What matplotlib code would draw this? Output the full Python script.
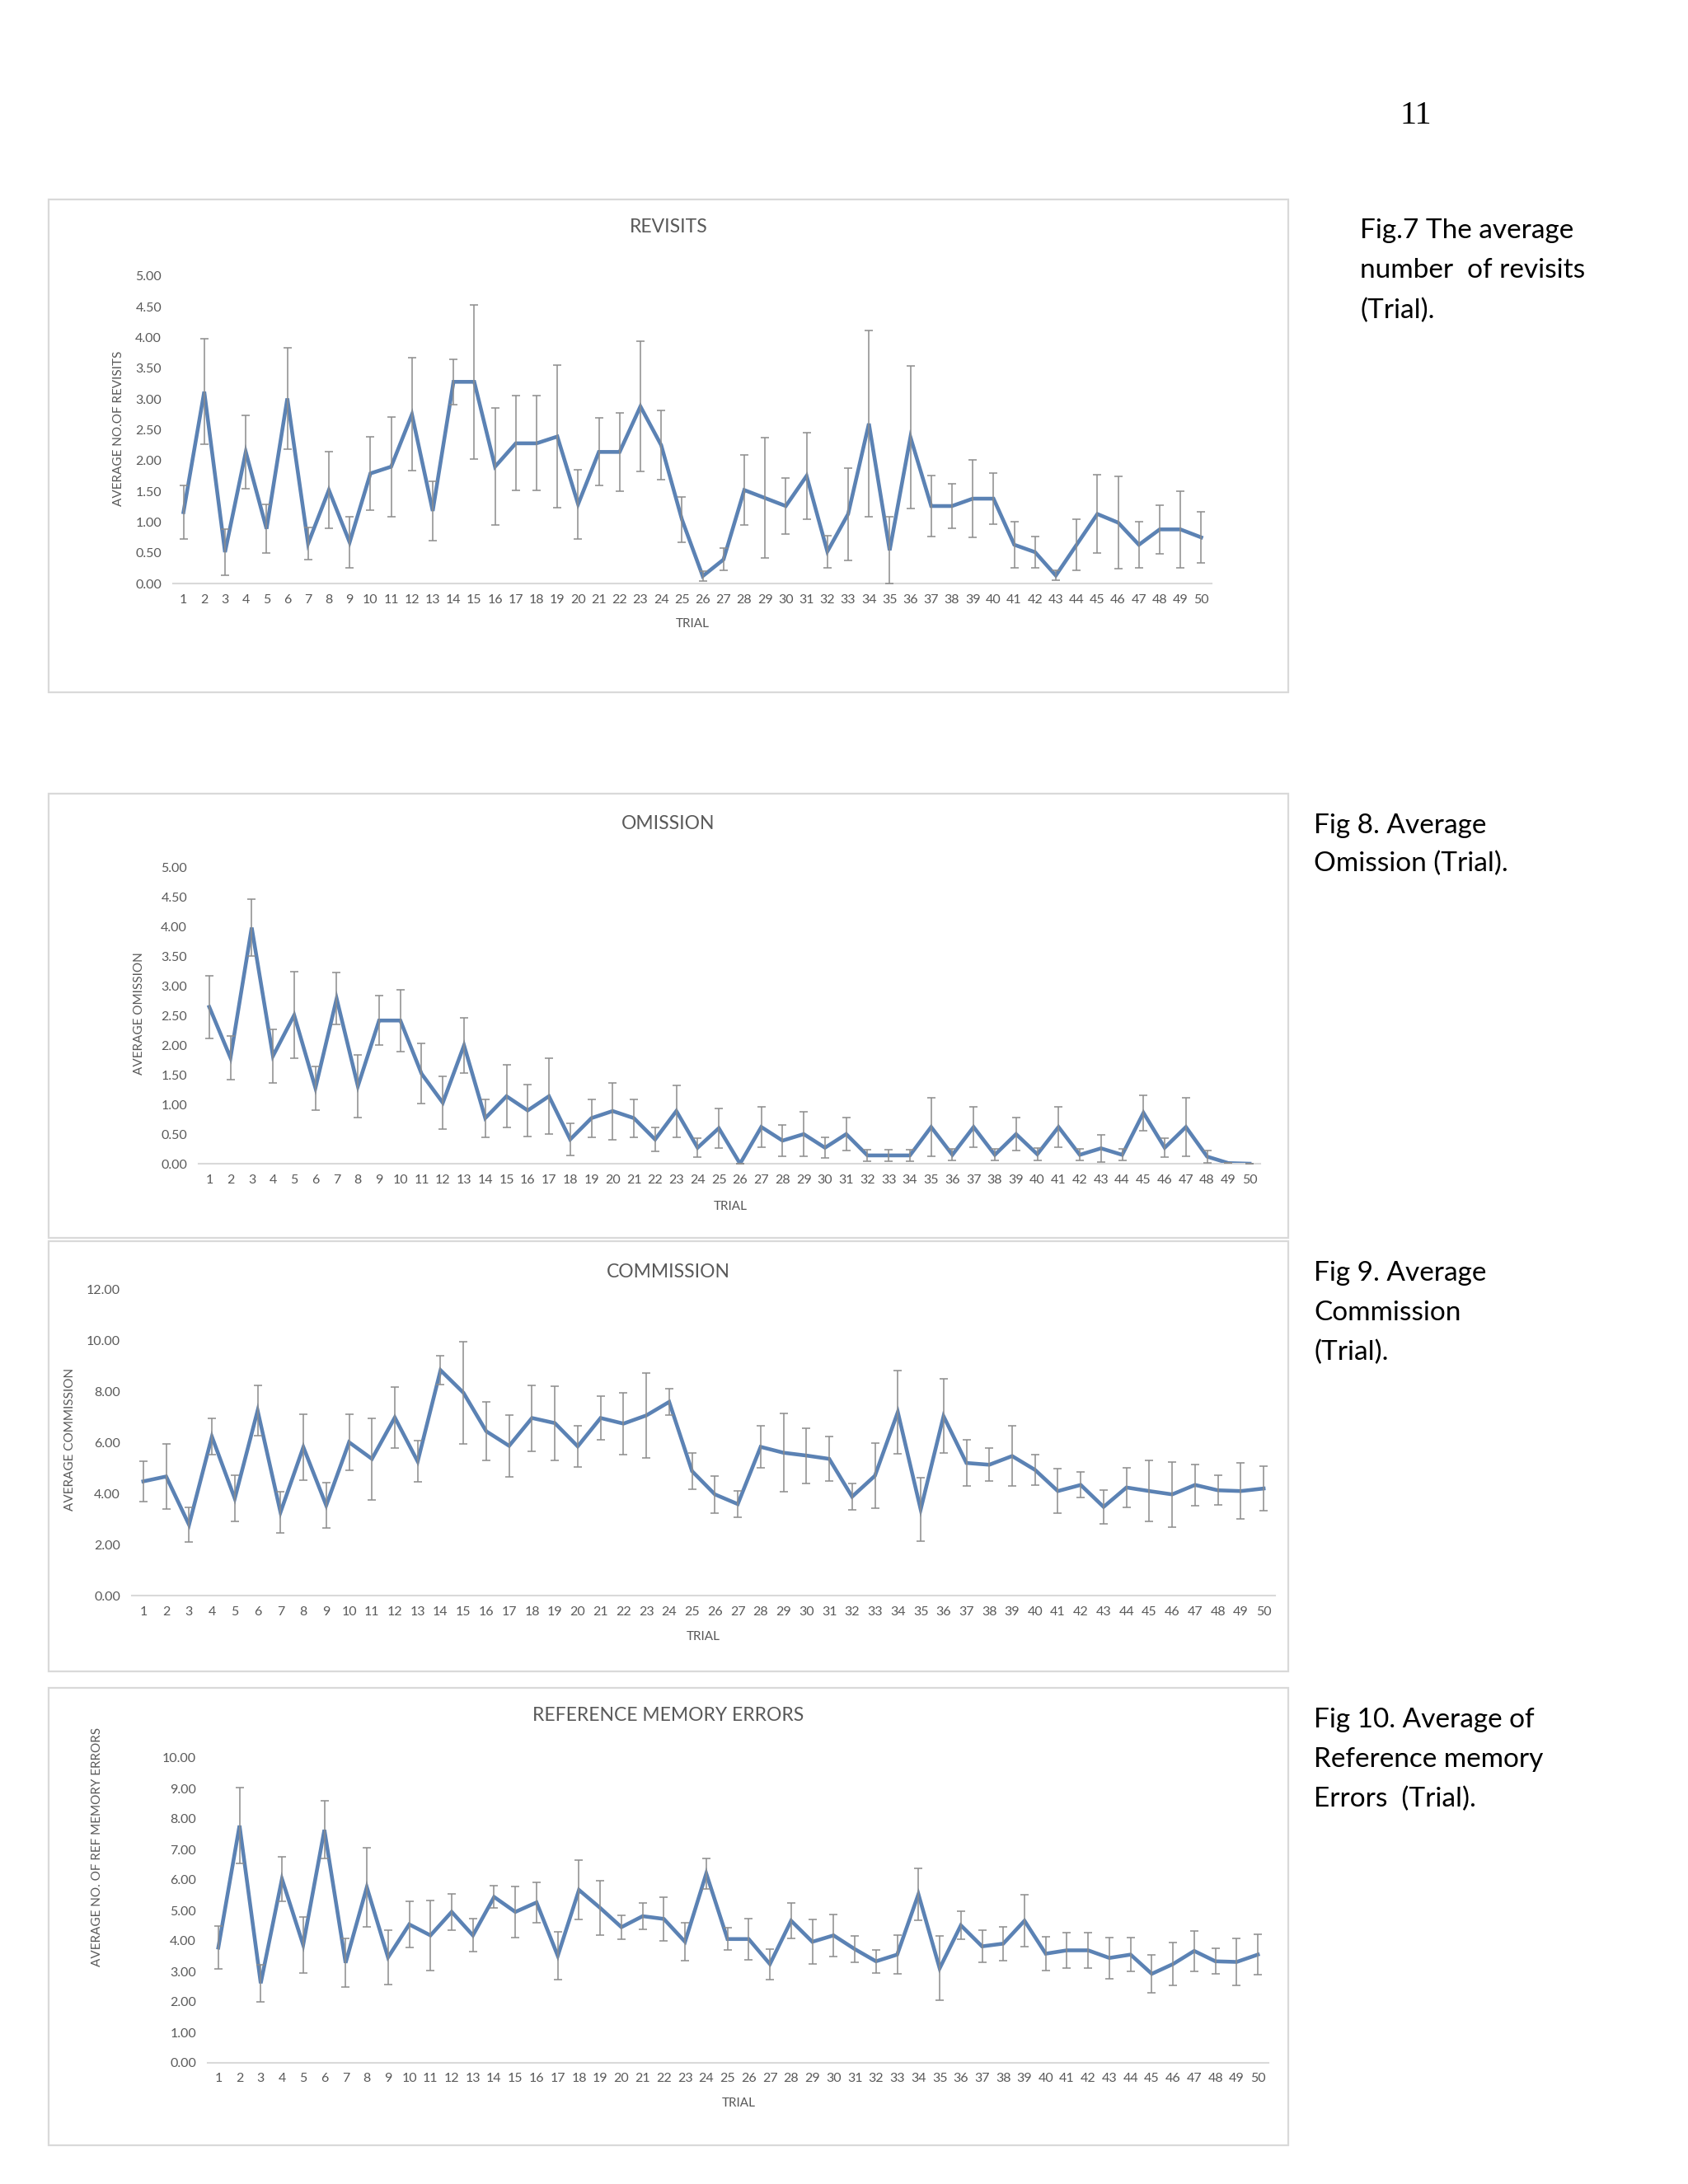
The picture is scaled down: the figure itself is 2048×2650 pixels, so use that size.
import matplotlib
matplotlib.use("Agg")
import matplotlib.pyplot as plt
from matplotlib.patches import Rectangle
import numpy as np

W, H = 2048, 2650
DPI = 100

trials = list(range(1, 51))

revisits_mean = [1.16, 3.12, 0.51, 2.14, 0.89, 3.01, 0.65, 1.52, 0.67, 1.79,
                 1.90, 2.75, 1.18, 3.28, 3.28, 1.90, 2.28, 2.28, 2.39, 1.29,
                 2.14, 2.14, 2.88, 2.25, 1.04, 0.12, 0.39, 1.52, 1.39, 1.26,
                 1.75, 0.52, 1.13, 2.60, 0.54, 2.38, 1.26, 1.26, 1.38, 1.38,
                 0.63, 0.51, 0.13, 0.63, 1.13, 0.99, 0.63, 0.88, 0.88, 0.75]
revisits_err = [0.43, 0.86, 0.37, 0.60, 0.40, 0.83, 0.26, 0.62, 0.42, 0.60,
                0.81, 0.92, 0.48, 0.37, 1.25, 0.95, 0.77, 0.77, 1.16, 0.56,
                0.55, 0.64, 1.06, 0.56, 0.37, 0.08, 0.18, 0.57, 0.98, 0.45,
                0.70, 0.26, 0.75, 1.52, 0.54, 1.16, 0.49, 0.36, 0.63, 0.42,
                0.38, 0.26, 0.08, 0.42, 0.64, 0.75, 0.38, 0.40, 0.62, 0.42]

omission_mean = [2.65, 1.79, 3.99, 1.82, 2.51, 1.28, 2.79, 1.31, 2.42, 2.42,
                 1.52, 1.03, 2.00, 0.77, 1.14, 0.90, 1.14, 0.41, 0.77, 0.89,
                 0.77, 0.41, 0.89, 0.27, 0.60, 0.00, 0.62, 0.39, 0.50, 0.27,
                 0.50, 0.14, 0.14, 0.14, 0.62, 0.15, 0.62, 0.15, 0.50, 0.16,
                 0.62, 0.15, 0.26, 0.15, 0.86, 0.27, 0.62, 0.12, 0.01, 0.00]
omission_err = [0.53, 0.37, 0.48, 0.45, 0.73, 0.37, 0.44, 0.53, 0.42, 0.52,
                0.51, 0.44, 0.47, 0.32, 0.53, 0.44, 0.64, 0.27, 0.32, 0.48,
                0.32, 0.20, 0.44, 0.16, 0.34, 0.00, 0.34, 0.26, 0.38, 0.17,
                0.28, 0.10, 0.10, 0.10, 0.50, 0.10, 0.34, 0.10, 0.28, 0.10,
                0.34, 0.10, 0.23, 0.10, 0.30, 0.16, 0.50, 0.10, 0.00, 0.00]

commission_mean = [4.47, 4.66, 2.77, 6.22, 3.80, 7.24, 3.26, 5.81, 3.53, 6.00,
                   5.35, 6.97, 5.25, 8.82, 7.94, 6.43, 5.86, 6.95, 6.75, 5.84,
                   6.95, 6.73, 7.05, 7.58, 4.87, 3.96, 3.58, 5.82, 5.59, 5.48,
                   5.35, 3.87, 4.69, 7.18, 3.37, 7.02, 5.19, 5.12, 5.46, 4.92,
                   4.09, 4.33, 3.47, 4.23, 4.09, 3.96, 4.33, 4.12, 4.09, 4.19]
commission_err = [0.78, 1.27, 0.68, 0.70, 0.90, 0.97, 0.80, 1.30, 0.90, 1.10,
                  1.60, 1.20, 0.80, 0.57, 2.00, 1.15, 1.20, 1.29, 1.45, 0.80,
                  0.86, 1.20, 1.67, 0.52, 0.70, 0.72, 0.52, 0.83, 1.53, 1.08,
                  0.87, 0.52, 1.28, 1.62, 1.25, 1.45, 0.90, 0.65, 1.17, 0.60,
                  0.87, 0.50, 0.67, 0.77, 1.20, 1.28, 0.81, 0.58, 1.10, 0.88]

rme_mean = [3.78, 7.78, 2.61, 6.03, 3.87, 7.64, 3.28, 5.76, 3.46, 4.54,
            4.18, 4.95, 4.18, 5.44, 4.95, 5.26, 3.51, 5.67, 5.08, 4.45,
            4.81, 4.72, 3.97, 6.21, 4.06, 4.06, 3.24, 4.66, 3.97, 4.18,
            3.73, 3.33, 3.55, 5.53, 3.10, 4.51, 3.82, 3.91, 4.66, 3.58,
            3.69, 3.69, 3.44, 3.55, 2.92, 3.24, 3.67, 3.33, 3.31, 3.55]
rme_err = [0.71, 1.25, 0.60, 0.74, 0.92, 0.95, 0.80, 1.30, 0.90, 0.75,
           1.15, 0.60, 0.54, 0.37, 0.84, 0.66, 0.79, 0.97, 0.88, 0.40,
           0.42, 0.71, 0.62, 0.50, 0.36, 0.67, 0.50, 0.58, 0.72, 0.68,
           0.42, 0.38, 0.63, 0.85, 1.05, 0.45, 0.52, 0.55, 0.85, 0.56,
           0.58, 0.58, 0.68, 0.56, 0.63, 0.70, 0.66, 0.42, 0.76, 0.67]

titles = ["REVISITS", "OMISSION", "COMMISSION", "REFERENCE MEMORY ERRORS"]
ylabels = ["AVERAGE NO.OF REVISITS", "AVERAGE OMISSION", "AVERAGE COMMISSION",
           "AVERAGE NO. OF REF MEMORY ERRORS"]
xlabel = "TRIAL"
captions = [["Fig.7 The average", "number  of revisits", "(Trial)."],
            ["Fig 8. Average", "Omission (Trial)."],
            ["Fig 9. Average", "Commission", "(Trial)."],
            ["Fig 10. Average of", "Reference memory", "Errors  (Trial)."]]
page_number = "11"

plt.rcParams['font.family'] = ['Lato', 'DejaVu Sans']

fig = plt.figure(figsize=(W / DPI, H / DPI), dpi=DPI)
fig.patch.set_facecolor('white')

def fx(px):
    return px / W

def fy(py):
    return 1 - py / H

LINE = '#5B82B4'
ERR = '#8C8C8C'
TXT = '#595959'
FRAME = '#D9D9D9'

# panel frames: (left, top, right, bottom) in pixels
frames = [(59, 242, 1563, 840), (59, 963, 1563, 1502), (59, 1506, 1563, 2028),
          (59, 2048, 1563, 2603)]
for (l, t, r, b) in frames:
    fig.patches.append(Rectangle((fx(l), fy(b)), fx(r) - fx(l), fy(t) - fy(b),
                                 transform=fig.transFigure, fill=False,
                                 edgecolor=FRAME, linewidth=1.6))

# axes geometry: left px, right px, top px (at ymax), bottom px (at 0)
panels = [
    dict(mean=revisits_mean, err=revisits_err, ymax=5.0, step=0.5,
         box=(210, 1470, 335, 708), title_y=276, ylab=(144, 520), xlab=(840, 757)),
    dict(mean=omission_mean, err=omission_err, ymax=5.0, step=0.5,
         box=(241, 1529, 1053, 1412), title_y=1000, ylab=(169, 1230), xlab=(886, 1464)),
    dict(mean=commission_mean, err=commission_err, ymax=12.0, step=2.0,
         box=(160, 1547, 1564, 1936), title_y=1543, ylab=(85, 1746), xlab=(853, 1986)),
    dict(mean=rme_mean, err=rme_err, ymax=10.0, step=1.0,
         box=(252, 1539, 2133, 2503), title_y=2082, ylab=(118, 2241), xlab=(896, 2552)),
]

for i, p in enumerate(panels):
    l, r, t, b = p['box']
    ax = fig.add_axes([fx(l), fy(b), fx(r) - fx(l), fy(t) - fy(b)])
    ax.set_facecolor('none')
    ax.plot(trials, p['mean'], color=LINE, linewidth=3.3, solid_joinstyle='miter',
            zorder=2)
    ax.errorbar(trials, p['mean'], yerr=p['err'], fmt='none', ecolor=ERR,
                elinewidth=1.1, capsize=3.5, capthick=1.1, zorder=3)
    ax.set_xlim(0.5, 50.5)
    ax.set_ylim(0, p['ymax'])
    ax.set_xticks(trials)
    ax.set_xticklabels([str(v) for v in trials])
    yt = np.arange(0, p['ymax'] + 1e-9, p['step'])
    ax.set_yticks(yt)
    ax.set_yticklabels(["%.2f" % v for v in yt])
    for s in ['top', 'right', 'left']:
        ax.spines[s].set_visible(False)
    ax.spines['bottom'].set_color(FRAME)
    ax.spines['bottom'].set_linewidth(1.5)
    ax.tick_params(axis='both', length=0, labelsize=11.5, colors=TXT)
    ax.tick_params(axis='y', pad=10)
    ax.tick_params(axis='x', pad=9)

    fig.text(fx(811), fy(p['title_y']), titles[i], ha='center', va='center',
             fontsize=16.5, color=TXT)
    fig.text(fx(p['ylab'][0]), fy(p['ylab'][1]), ylabels[i], ha='center',
             va='center', rotation=90, fontsize=11, color=TXT)
    fig.text(fx(p['xlab'][0]), fy(p['xlab'][1]), xlabel, ha='center',
             va='center', fontsize=11, color=TXT)

# captions
cap_pos = [(1650, [280, 328, 377]), (1594, [1002, 1048]),
           (1594, [1545, 1593, 1641]), (1594, [2087, 2135, 2183])]
for lines, (x, ys) in zip(captions, cap_pos):
    for txt, y in zip(lines, ys):
        fig.text(fx(x), fy(y), txt, ha='left', va='center', fontsize=24,
                 color='black')

fig.text(fx(1718), fy(140), page_number, ha='center', va='center', fontsize=29,
         family=['Liberation Serif', 'DejaVu Serif'], color='black')

fig.savefig('out.png', dpi=DPI, facecolor='white')
